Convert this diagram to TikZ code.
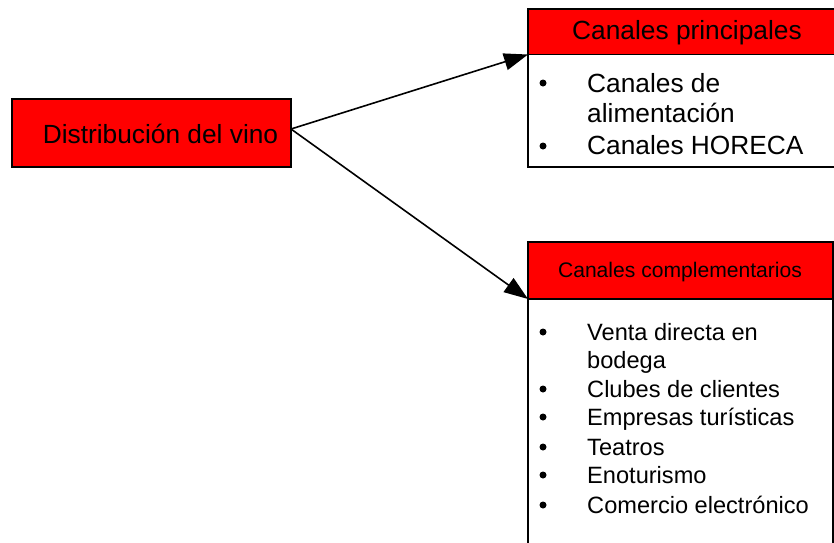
\documentclass[tikz,border=0pt]{standalone}
\usepackage{fontspec}
\setmainfont{Liberation Sans}
\usetikzlibrary{arrows.meta}
\definecolor{boxred}{RGB}{255,0,0}
\begin{document}
\begin{tikzpicture}[x=1pt,y=-1pt,
  redbox/.style={draw=black,fill=boxred,line width=1.8pt,inner sep=0pt,outer sep=0pt},
  bodybox/.style={draw=black,fill=white,line width=1.8pt,inner sep=0pt,outer sep=0pt},
  bigtext/.style={font=\fontsize{26.3}{31}\selectfont,inner sep=0pt},
  midtext/.style={font=\fontsize{23.6}{29}\selectfont,inner sep=0pt},
  smalltext/.style={font=\fontsize{21.1}{25}\selectfont,inner sep=0pt},
  dot/.style={circle,fill=black,inner sep=0pt,minimum size=7pt},
  conn/.style={draw=black,line width=1.6pt,-{Triangle[length=24pt,width=17pt]}}
]
\useasboundingbox (0,0) rectangle (834,542);
\clip (0,0) rectangle (834,542);
\fill[white] (0,0) rectangle (834,542);

% source box
\node[redbox,minimum width=279pt,minimum height=68pt] (src) at (151.5,133) {};
\node[bigtext,anchor=base] (srclabel) at (160.5,143) {Distribución del vino};

% top box
\node[bodybox,minimum width=312pt,minimum height=112.5pt] (topbody) at (684,110.75) {};
\node[redbox,minimum width=312pt,minimum height=45.5pt] (tophead) at (684,31.75) {};
\node[bigtext,anchor=base] (toptitle) at (687,39) {Canales principales};
\node[dot] (tb1) at (543,83) {};
\node[bigtext,anchor=base west] (t1) at (587,92) {Canales de};
\node[bigtext,anchor=base west] (t1b) at (587,122) {alimentación};
\node[dot] (tb2) at (543,146) {};
\node[bigtext,anchor=base west] (t2) at (587,154) {Canales HORECA};

% bottom box
\node[bodybox,minimum width=305pt,minimum height=271pt] (botbody) at (680.5,434.5) {};
\node[redbox,minimum width=305pt,minimum height=57pt] (bothead) at (680.5,270.5) {};
\node[smalltext,anchor=base] (bottitle) at (680,277) {Canales complementarios};
\node[dot] (bb1) at (543,332) {};
\node[midtext,anchor=base west] (b1) at (587,340) {Venta directa en};
\node[midtext,anchor=base west] (b1b) at (587,368) {bodega};
\node[dot] (bb2) at (543,389) {};
\node[midtext,anchor=base west] (b2) at (587,397) {Clubes de clientes};
\node[dot] (bb3) at (543,417) {};
\node[midtext,anchor=base west] (b3) at (587,425) {Empresas turísticas};
\node[dot] (bb4) at (543,447) {};
\node[midtext,anchor=base west] (b4) at (587,455) {Teatros};
\node[dot] (bb5) at (543,475) {};
\node[midtext,anchor=base west] (b5) at (587,483) {Enoturismo};
\node[dot] (bb6) at (543,505) {};
\node[midtext,anchor=base west] (b6) at (587,513) {Comercio electrónico};

% connectors
\draw[conn] ([yshift=4pt]src.east) -- (tophead.south west);
\draw[conn] ([yshift=4pt]src.east) -- (bothead.south west);
\end{tikzpicture}
\end{document}
